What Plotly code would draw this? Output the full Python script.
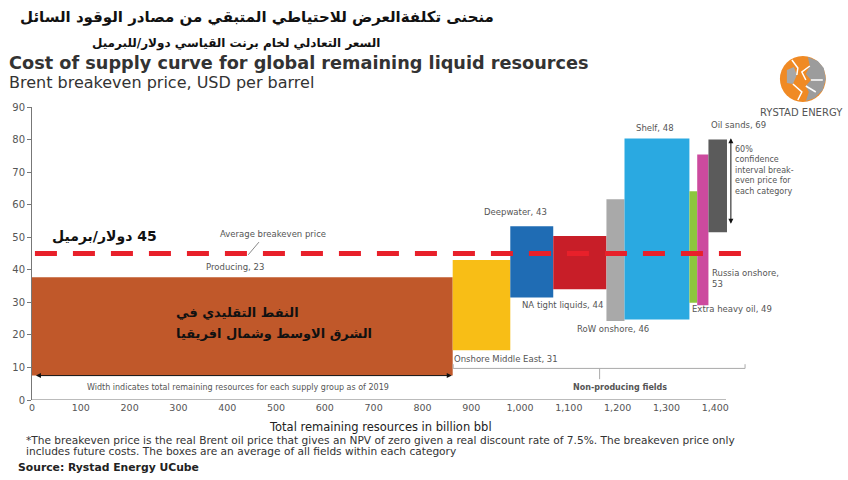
import plotly.graph_objects as go

# ---------------- data ----------------
groups = ["Producing", "Onshore Middle East", "Deepwater", "NA tight liquids",
          "RoW onshore", "Shelf", "Extra heavy oil", "Russia onshore", "Oil sands"]
x_start = [0, 862, 980, 1068, 1177, 1214, 1347, 1363, 1386]
x_end = [862, 980, 1068, 1177, 1214, 1347, 1363, 1386, 1424]
price_low = [7.5, 15.3, 31.5, 34.0, 24.3, 24.7, 29.9, 29.1, 51.5]
price_high = [37.7, 43.0, 53.4, 50.4, 61.7, 80.3, 64.1, 75.4, 80.0]
breakeven = [23, 31, 43, 44, 46, 48, 49, 53, 69]
colors = ["#C0582A", "#F8BE16", "#1F6CB4", "#C81E28", "#A9A9A9",
          "#2AA9E1", "#8CC63E", "#CC4A9E", "#5B5B5B"]
average_price = 45
x_tick_vals = [0, 100, 200, 300, 400, 500, 600, 700, 800, 900, 1000, 1100, 1200, 1300, 1400]
x_tick_text = ["0", "100", "200", "300", "400", "500", "600", "700", "800", "900",
               "1,000", "1,100", "1,200", "1,300", "1,400"]
y_tick_vals = [0, 10, 20, 30, 40, 50, 60, 70, 80, 90]

# ---------------- layout geometry ----------------
W, H = 848, 480
L, R, T, B = 30, 101, 107, 80
PW, PH = W - L - R, H - T - B


def px(x):
    return (x - L) / PW


def py(y):
    return (H - B - y) / PH


fig = go.Figure()

centers = [(a + b) / 2 for a, b in zip(x_start, x_end)]
widths = [b - a for a, b in zip(x_start, x_end)]
heights = [h - l for h, l in zip(price_high, price_low)]

fig.add_trace(go.Bar(
    x=centers, y=heights, base=price_low, width=widths,
    marker=dict(color=colors, line=dict(width=0)),
    hovertext=groups, showlegend=False,
))

fig.add_trace(go.Scatter(
    x=[6, 1455], y=[average_price, average_price], mode="lines",
    line=dict(color="#E8202A", width=5, dash="22px,16px"),
    showlegend=False, hoverinfo="skip",
))

GRAY = "#555555"
DV = "DejaVu Sans, Verdana, sans-serif"
SMALL = dict(family=DV, size=8.5, color=GRAY)

ann = []


def label(text, x, y, xanchor="center", yanchor="middle", font=None, **kw):
    ann.append(dict(text=text, x=x, y=y, xref="x", yref="y", showarrow=False,
                    xanchor=xanchor, yanchor=yanchor, font=font or SMALL, **kw))


label("Average breakeven price", 494, 51.0)
label("Producing, %d" % breakeven[0], 415, 40.8)
label("Onshore Middle East, %d" % breakeven[1], 860, 12.6, xanchor="left")
label("Deepwater, %d" % breakeven[2], 991, 57.7)
label("NA tight liquids, %d" % breakeven[3], 1087, 29.2)
label("RoW onshore, %d" % breakeven[4], 1191, 21.8)
label("Shelf, %d" % breakeven[5], 1277, 83.5)
label("Extra heavy oil, %d" % breakeven[6], 1349, 27.9, xanchor="left")
label("Russia onshore,<br>%d" % breakeven[7], 1389, 37.2, xanchor="left", align="left")
label("Oil sands, %d" % breakeven[8], 1387, 84.5, xanchor="left")
label("60%<br>confidence<br>interval break-<br>even price for<br>each category",
      1437, 79.0, xanchor="left", yanchor="top", align="left",
      font=dict(family=DV, size=8, color=GRAY))
label("Width indicates total remaining resources for each supply group as of 2019",
      423, 3.7, font=dict(family=DV, size=8, color=GRAY))
label("<b>Non-producing fields</b>", 1205, 3.7, font=dict(family=DV, size=8, color=GRAY))

label("<b>\u202b45 دولار/برميل\u202c</b>", 149, 50.3,
      font=dict(family="DejaVu Sans, sans-serif", size=14, color="#111111"))
AR_BAR = dict(family="DejaVu Sans, sans-serif", size=13, color="#111111")
label("<b>النفط التقليدي في</b>", 290, 27.0, xanchor="left", font=AR_BAR)
label("<b>الشرق الاوسط وشمال افريقيا</b>", 290, 20.3, xanchor="left", font=AR_BAR)

# double arrow along the producing bar
ann.append(dict(x=860, y=7.5, ax=5, ay=7.5, xref="x", yref="y", axref="x", ayref="y",
                text="", showarrow=True, arrowhead=2, arrowside="end+start",
                arrowsize=1, arrowwidth=1, arrowcolor="#111111"))
# vertical confidence arrow
ann.append(dict(x=1432, y=80.4, ax=1432, ay=53.7, xref="x", yref="y", axref="x", ayref="y",
                text="", showarrow=True, arrowhead=2, arrowside="end+start",
                arrowsize=1, arrowwidth=1, arrowcolor="#111111"))


def ptext(text, x, y, size, color="#222222", family="DejaVu Sans, sans-serif",
          xanchor="center"):
    ann.append(dict(text=text, x=px(x), y=py(y), xref="paper", yref="paper",
                    showarrow=False, xanchor=xanchor, yanchor="middle",
                    font=dict(family=family, size=size, color=color)))


ptext("<b>منحنى تكلفةالعرض للاحتياطي المتبقي من مصادر الوقود السائل</b>", 256, 17, 15, "#111111")
ptext("<b>السعر التعادلي لخام برنت القياسي دولار/للبرميل</b>", 235, 43, 12, "#111111")
ptext("<b>Cost of supply curve for global remaining liquid resources</b>", 5, 63, 17.7,
      "#333333", xanchor="left")
ptext("Brent breakeven price, USD per barrel", 5, 82, 16, "#333333", xanchor="left")

ptext("Total remaining resources in billion bbl", 379, 427, 11.5, "#222222")
ptext("*The breakeven price is the real Brent oil price that gives an NPV of zero given a real "
      "discount rate of 7.5%. The breakeven price only", 22, 440, 10.6, "#333333", DV, "left")
ptext("includes future costs. The boxes are an average of all fields within each category",
      22, 451, 10.6, "#333333", DV, "left")
ptext("<b>Source: Rystad Energy UCube</b>", 14, 468, 10.8, "#222222", DV, "left")
ptext("RYSTAD ENERGY", 802, 112, 10, "#555555")

shapes = []
# x axis line
shapes.append(dict(type="line", xref="x", yref="y", x0=0, x1=1422, y0=0, y1=0,
                   line=dict(color="#777777", width=1)))
# leader line for average breakeven
shapes.append(dict(type="line", xref="x", yref="y", x0=465, y0=48.5, x1=443, y1=44.6,
                   line=dict(color="#888888", width=1)))
# bracket for non-producing fields
BR = dict(color="#AAAAAA", width=1)
shapes.append(dict(type="line", xref="x", yref="y", x0=863, x1=1461, y0=9.7, y1=9.7, line=BR))
shapes.append(dict(type="line", xref="x", yref="y", x0=863, x1=863, y0=9.7, y1=11.0, line=BR))
shapes.append(dict(type="line", xref="x", yref="y", x0=1461, x1=1461, y0=9.7, y1=11.0, line=BR))
shapes.append(dict(type="line", xref="x", yref="y", x0=1163, x1=1163, y0=9.7, y1=6.4, line=BR))

# logo globe
cx, cy, r = 803, 79, 23
shapes.append(dict(type="circle", xref="paper", yref="paper",
                   x0=px(cx - r), x1=px(cx + r), y0=py(cy + r), y1=py(cy - r),
                   fillcolor="#F08A24", line=dict(width=0), layer="above"))


def ppath(points, close=True):
    s = "M " + " L ".join("%.4f,%.4f" % (px(a), py(b)) for a, b in points)
    return s + (" Z" if close else "")


shapes.append(dict(type="path", xref="paper", yref="paper",
                   path=ppath([(808, 57), (818, 61), (824, 68), (826, 79), (823, 90),
                               (815, 98), (806, 101), (809, 92), (806, 86), (811, 80),
                               (806, 74), (810, 66)]),
                   fillcolor="#9C9C9C", line=dict(width=0), layer="above"))
shapes.append(dict(type="path", xref="paper", yref="paper",
                   path=ppath([(787, 70), (794, 67), (797, 75), (793, 84), (787, 83)]),
                   fillcolor="#A8A8A8", line=dict(width=0), layer="above"))
for seg in [[(792, 60), (798, 68), (797, 75)], [(810, 66), (802, 72), (806, 80)],
            [(793, 84), (802, 92), (798, 100)], [(811, 80), (823, 80)],
            [(806, 86), (816, 92)]]:
    shapes.append(dict(type="path", xref="paper", yref="paper", path=ppath(seg, False),
                       line=dict(color="#FFFFFF", width=1.5), layer="above"))

fig.update_layout(
    width=W, height=H,
    margin=dict(l=L, r=R, t=T, b=B, pad=0),
    paper_bgcolor="white", plot_bgcolor="white",
    barmode="overlay",
    xaxis=dict(range=[0, 1465], tickvals=x_tick_vals, ticktext=x_tick_text,
               showgrid=False, zeroline=False, showline=False, ticks="",
               tickfont=dict(family=DV, size=9.5, color=GRAY), fixedrange=True),
    yaxis=dict(range=[0, 90], tickvals=y_tick_vals, showgrid=False, zeroline=False,
               showline=True, linecolor="#777777", linewidth=1,
               ticks="outside", ticklen=4, tickcolor="#777777",
               tickfont=dict(family=DV, size=10, color=GRAY), fixedrange=True),
    annotations=ann,
    shapes=shapes,
    showlegend=False,
)

fig.write_html("out.html", config={"displayModeBar": False})
